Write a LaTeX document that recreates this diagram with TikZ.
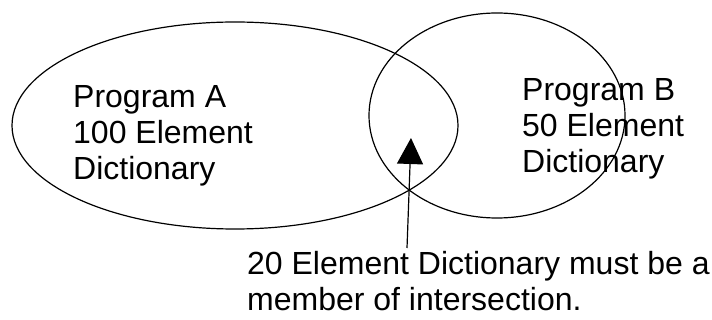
\documentclass[tikz,border=0pt]{standalone}
\usepackage{fontspec}
\setmainfont{Liberation Sans}
\usetikzlibrary{shapes.geometric,arrows.meta}
\begin{document}
\begin{tikzpicture}[x=1pt,y=-1pt,
  setshape/.style={draw=black,line width=1.2pt,ellipse,inner sep=0pt},
  lbl/.style={anchor=base west,inner sep=0pt,font=\fontsize{32pt}{36pt}\selectfont},
  pointer/.style={line width=1.2pt,-{Triangle[length=26pt,width=26pt]}}]
\useasboundingbox (0,0) rectangle (712,320);
\node[setshape,minimum width=446pt,minimum height=207pt] (A) at (235,125.5) {};
\node[setshape,minimum width=256pt,minimum height=205pt] (B) at (497,115.5) {};
\node[lbl] (a1) at (73,108) {Program A};
\node[lbl] (a2) at (73,144) {100 Element};
\node[lbl] (a3) at (73,179.5) {Dictionary};
\node[lbl] (b1) at (522,101) {Program B};
\node[lbl] (b2) at (522,137) {50 Element};
\node[lbl] (b3) at (522,172.5) {Dictionary};
\node[lbl] (c1) at (247,275) {20 Element Dictionary must be a};
\node[lbl] (c2) at (247,311) {member of intersection.};
\coordinate (tail) at (407,248);
\coordinate (tip) at (411,138);
\draw[pointer] (tail) -- (tip);
\end{tikzpicture}
\end{document}
